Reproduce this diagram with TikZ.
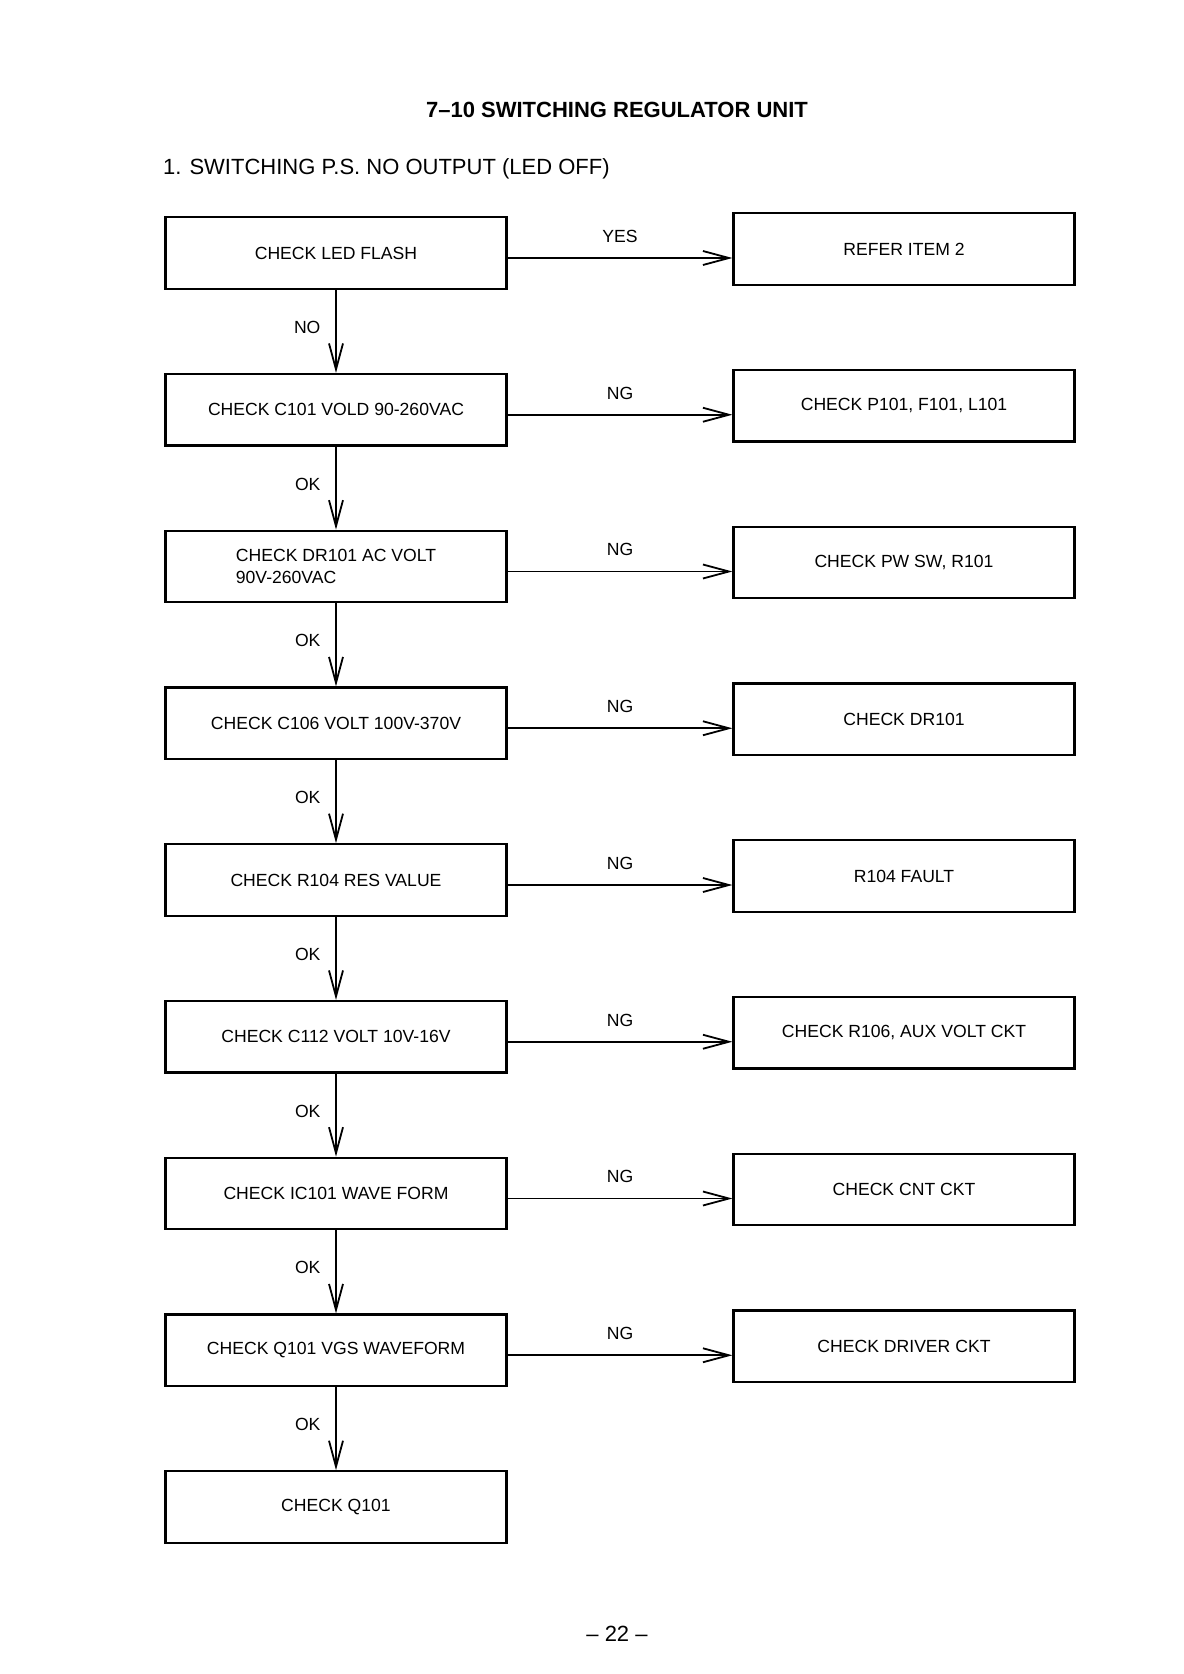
\documentclass[tikz,border=0pt]{standalone}
\usepackage{fontspec}
\setmainfont{Liberation Sans}
\usepackage{tikz}
\usetikzlibrary{arrows.meta, positioning}

\newcommand{\boxfont}{\fontsize{8.8}{11}\selectfont}

\begin{document}
\begin{tikzpicture}[
    x=0.5pt, y=-0.5pt,
    every node/.style={font=\boxfont},
    chk/.style={draw, line width=1.1pt, minimum width=170.5pt, minimum height=35.75pt,
                inner sep=0pt, align=left},
    arrow/.style={-{Straight Barb[length=13pt, width=7pt]}, line width=0.9pt},
]
\useasboundingbox (0,0) rectangle (1183,1674);

%% Titulos
\node[font=\fontsize{11}{13}\selectfont\bfseries] at (617,110) (title) {7--10 SWITCHING REGULATOR UNIT};
\node[anchor=west, font=\fontsize{11}{13}\selectfont] at (156,169) (sub) {1. SWITCHING P.S. NO OUTPUT (LED OFF)};

%% Columna izquierda (pruebas)
\node[chk] at (336,253)     (l1) {CHECK LED FLASH};
\node[chk] at (336,409.75)  (l2) {CHECK C101 VOLD 90-260VAC};
\node[chk] at (336,566.5)   (l3) {CHECK DR101 AC VOLT\\90V-260VAC};
\node[chk] at (336,723.25)  (l4) {CHECK C106 VOLT 100V-370V};
\node[chk] at (336,880)     (l5) {CHECK R104 RES VALUE};
\node[chk] at (336,1036.75) (l6) {CHECK C112 VOLT 10V-16V};
\node[chk] at (336,1193.5)  (l7) {CHECK IC101 WAVE FORM};
\node[chk] at (336,1350.25) (l8) {CHECK Q101 VGS WAVEFORM};
\node[chk] at (336,1507)    (l9) {CHECK Q101};

%% Columna derecha (resultados)
\node[chk] at (904,249)     (r1) {REFER ITEM 2};
\node[chk] at (904,405.75)  (r2) {CHECK P101, F101, L101};
\node[chk] at (904,562.5)   (r3) {CHECK PW SW, R101};
\node[chk] at (904,719.25)  (r4) {CHECK DR101};
\node[chk] at (904,876)     (r5) {R104 FAULT};
\node[chk] at (904,1032.75) (r6) {CHECK R106, AUX VOLT CKT};
\node[chk] at (904,1189.5)  (r7) {CHECK CNT CKT};
\node[chk] at (904,1346.25) (r8) {CHECK DRIVER CKT};

%% Pie de pagina
\node[font=\fontsize{11}{13}\selectfont] at (617,1634) (page) {-- 22 --};

%% Flechas verticales
\draw[arrow] (l1) -- (l2) node[midway, left=4pt, yshift=2pt]{NO};
\draw[arrow] (l2) -- (l3) node[midway, left=4pt, yshift=2pt]{OK};
\draw[arrow] (l3) -- (l4) node[midway, left=4pt, yshift=2pt]{OK};
\draw[arrow] (l4) -- (l5) node[midway, left=4pt, yshift=2pt]{OK};
\draw[arrow] (l5) -- (l6) node[midway, left=4pt, yshift=2pt]{OK};
\draw[arrow] (l6) -- (l7) node[midway, left=4pt, yshift=2pt]{OK};
\draw[arrow] (l7) -- (l8) node[midway, left=4pt, yshift=2pt]{OK};
\draw[arrow] (l8) -- (l9) node[midway, left=4pt, yshift=2pt]{OK};

%% Flechas horizontales (un poco por debajo del centro)
\draw[arrow] ([yshift=-2.5pt]l1.east) -- ([yshift=-2.5pt]l1.east -| r1.west) node[midway, above=4pt]{YES};
\draw[arrow] ([yshift=-2.5pt]l2.east) -- ([yshift=-2.5pt]l2.east -| r2.west) node[midway, above=4pt]{NG};
\draw[arrow] ([yshift=-2.5pt]l3.east) -- ([yshift=-2.5pt]l3.east -| r3.west) node[midway, above=4pt]{NG};
\draw[arrow] ([yshift=-2.5pt]l4.east) -- ([yshift=-2.5pt]l4.east -| r4.west) node[midway, above=4pt]{NG};
\draw[arrow] ([yshift=-2.5pt]l5.east) -- ([yshift=-2.5pt]l5.east -| r5.west) node[midway, above=4pt]{NG};
\draw[arrow] ([yshift=-2.5pt]l6.east) -- ([yshift=-2.5pt]l6.east -| r6.west) node[midway, above=4pt]{NG};
\draw[arrow] ([yshift=-2.5pt]l7.east) -- ([yshift=-2.5pt]l7.east -| r7.west) node[midway, above=4pt]{NG};
\draw[arrow] ([yshift=-2.5pt]l8.east) -- ([yshift=-2.5pt]l8.east -| r8.west) node[midway, above=4pt]{NG};

\end{tikzpicture}
\end{document}
